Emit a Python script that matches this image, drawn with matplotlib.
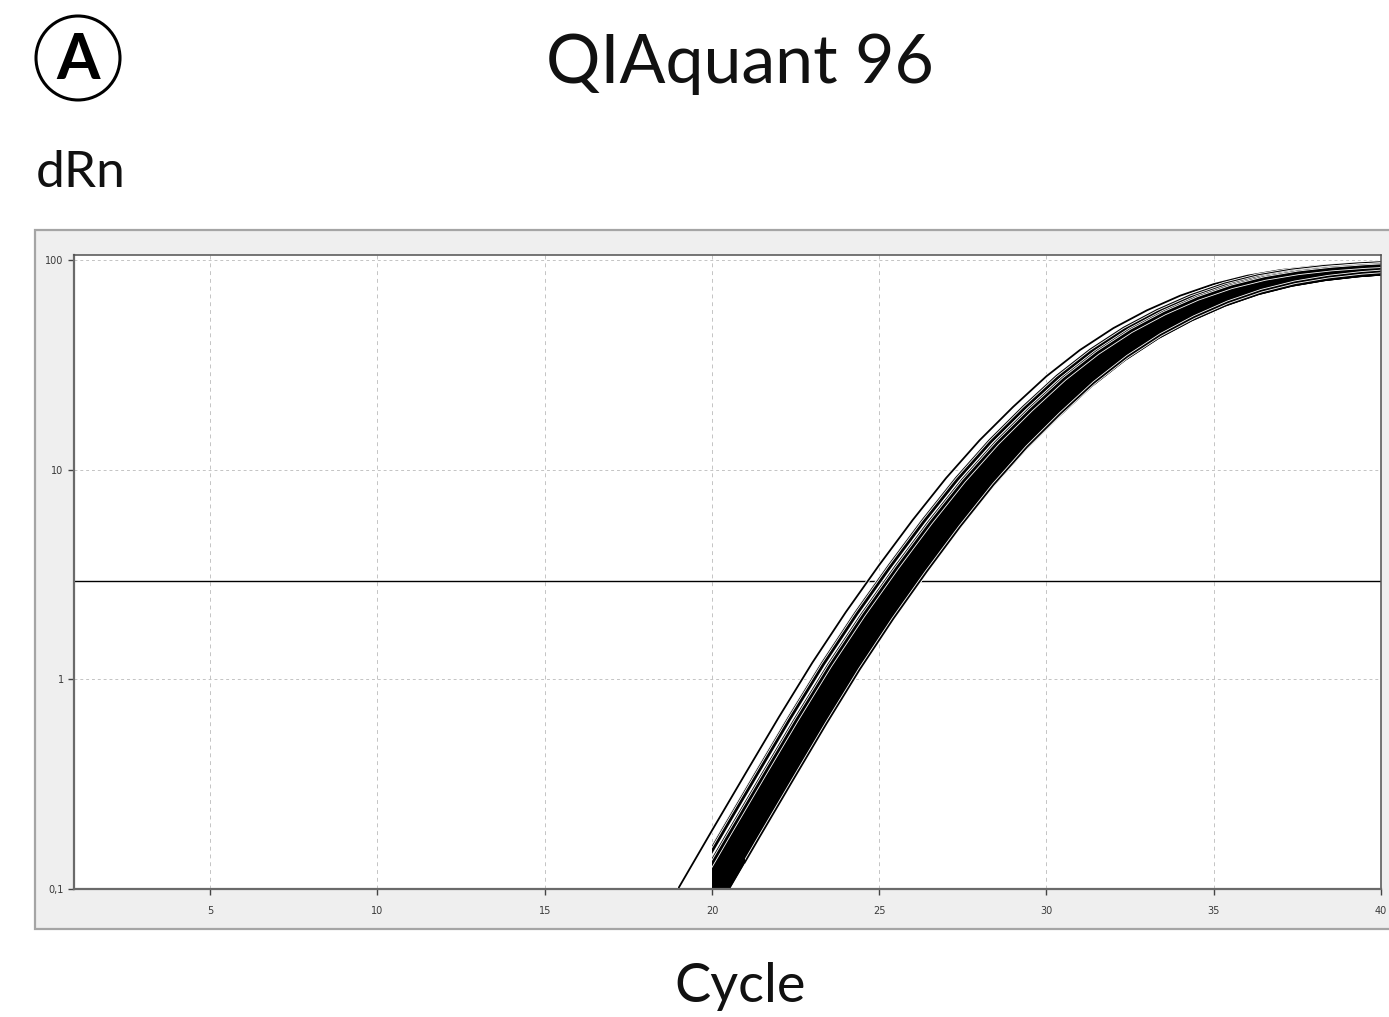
import numpy as np
import matplotlib
matplotlib.use("Agg")
import matplotlib.pyplot as plt
from matplotlib.patches import Rectangle, Ellipse
import matplotlib.patheffects as pe

# ---- data ----
# amplification profile of the earliest well (dRn per cycle)
profile_cycles = [18, 19, 20, 21, 22, 23, 24, 25, 26, 27, 28, 29, 30,
                  31, 32, 33, 34, 35, 36, 37, 38, 39, 40]
profile_drn = [0.054, 0.101, 0.19, 0.355, 0.66, 1.20, 2.09, 3.51, 5.75, 9.12,
               13.8, 19.9, 27.9, 37.2, 47.3, 57.5, 67.6, 76.7, 84.1, 89.5,
               93.3, 95.9, 97.7]

# per-well delay (cycles) relative to the earliest well
well_shift = [0.00,
              0.28, 0.31, 0.33,
              0.49, 0.53,
              0.66, 0.69, 0.71, 0.73, 0.75, 0.77, 0.79, 0.80, 0.82, 0.83,
              0.85, 0.86, 0.87, 0.89, 0.90, 0.91, 0.92, 0.93, 0.94, 0.95,
              0.96, 0.97, 0.98, 0.99, 1.00, 1.00, 1.01, 1.02, 1.03, 1.04,
              1.04, 1.05, 1.06, 1.07, 1.08, 1.08, 1.09, 1.10, 1.11, 1.12,
              1.12, 1.13, 1.14, 1.15, 1.15, 1.16, 1.17, 1.18, 1.18, 1.19,
              1.20, 1.20, 1.21, 1.22, 1.22, 1.23, 1.24, 1.24, 1.25, 1.26,
              1.26, 1.27, 1.28, 1.28, 1.29, 1.30, 1.30, 1.31, 1.32, 1.32,
              1.05, 1.10, 1.14, 1.17, 1.21, 1.25, 1.27, 1.29, 1.31, 1.33,
              1.19, 1.23, 1.27, 1.30, 1.33, 1.34, 1.35, 1.20, 1.25,
              1.42]

# per-well plateau scale
well_scale = [1.00,
              0.99, 1.00, 0.98,
              0.98, 0.97,
              0.99, 0.97, 0.98, 0.96, 0.99, 0.95, 0.97, 0.98, 0.94, 0.96,
              0.98, 0.95, 0.97, 0.93, 0.96, 0.98, 0.94, 0.97, 0.95, 0.92,
              0.96, 0.98, 0.93, 0.95, 0.97, 0.91, 0.94, 0.96, 0.98, 0.92,
              0.95, 0.97, 0.93, 0.96, 0.91, 0.94, 0.98, 0.92, 0.95, 0.97,
              0.93, 0.96, 0.90, 0.94, 0.97, 0.92, 0.95, 0.91, 0.96, 0.93,
              0.97, 0.90, 0.94, 0.92, 0.96, 0.91, 0.95, 0.93, 0.90, 0.94,
              0.92, 0.96, 0.91, 0.93, 0.95, 0.90, 0.92, 0.94, 0.91, 0.93,
              0.97, 0.95, 0.93, 0.96, 0.92, 0.94, 0.91, 0.95, 0.92, 0.90,
              0.96, 0.93, 0.91, 0.94, 0.92, 0.90, 0.93, 0.95, 0.91,
              0.93]

first_cycle = [19] + [20] * 94 + [21]
# wells that run apart from the main bundle
separate_wells = [0, 1, 2, 3, 4, 5, 95]

threshold = 2.96
x_ticks = [5, 10, 15, 20, 25, 30, 35, 40]
y_ticks = [0.1, 1, 10, 100]
y_tick_labels = ["0,1", "1", "10", "100"]

# ---- figure ----
W, H = 1389, 1017
fig = plt.figure(figsize=(W / 100, H / 100), dpi=100)
fig.patch.set_facecolor("white")

def fx(px):
    return px / W

def fy(py):
    return 1 - py / H

XMIN, XMAX = 0.93, 40
YMIN, YMAX = 0.1, 105.6

# gray panel
panel = Rectangle((fx(35), fy(929)), fx(1400) - fx(35), fy(230) - fy(929),
                  transform=fig.transFigure, facecolor="#efefef",
                  edgecolor="#a5a5a5", linewidth=1.6, zorder=-5)
fig.patches.append(panel)

ax = fig.add_axes([fx(74), fy(889), fx(1381) - fx(74), fy(255) - fy(889)])
ax.set_zorder(2)
ax.set_facecolor("white")
ax.set_yscale("log")
ax.set_xlim(XMIN, XMAX)
ax.set_ylim(YMIN, YMAX)

# grid
for xv in x_ticks[:-1]:
    ax.axvline(xv, color="#c4c4c4", lw=0.7, dashes=(4, 4), zorder=1)
for yv in [1, 10, 100]:
    ax.axhline(yv, color="#c4c4c4", lw=0.7, dashes=(3, 3), zorder=1)

# threshold
ax.axhline(threshold, color="black", lw=1.0, zorder=2)

cyc = np.array(profile_cycles, dtype=float)
drn = np.array(profile_drn, dtype=float)

def clip_for(fc):
    return Rectangle((fc, YMIN), XMAX - fc, YMAX - YMIN, transform=ax.transData)

for i, (sh, sc, fc) in enumerate(zip(well_shift, well_scale, first_cycle)):
    if i in separate_wells:
        lw = 1.3 if i in (0, 95) else 2.0
        line, = ax.plot(cyc + sh, drn * sc, color="black", lw=lw, zorder=4,
                        solid_joinstyle="round", solid_capstyle="butt")
        line.set_path_effects([pe.Stroke(linewidth=lw + 1.2, foreground="white"),
                               pe.Normal()])
        line.set_clip_path(clip_for(fc))
    else:
        halo, = ax.plot(cyc + sh, drn * sc, color="white", lw=3.0, zorder=2.5,
                        solid_joinstyle="round", solid_capstyle="butt")
        halo.set_clip_path(clip_for(fc))
        line, = ax.plot(cyc + sh, drn * sc, color="black", lw=2.0, zorder=3,
                        solid_joinstyle="round", solid_capstyle="butt")
        line.set_clip_path(clip_for(fc))

# spines
for side in ["left", "bottom"]:
    ax.spines[side].set_color("#6a6a6a")
    ax.spines[side].set_linewidth(1.6)
    ax.spines[side].set_zorder(5)
for side in ["top", "right"]:
    ax.spines[side].set_color("#505050")
    ax.spines[side].set_linewidth(1.1)
    ax.spines[side].set_zorder(5)

ax.set_xticks(x_ticks)
ax.set_xticklabels([str(v) for v in x_ticks])
ax.set_yticks(y_ticks)
ax.set_yticklabels(y_tick_labels)
ax.minorticks_off()
ax.tick_params(axis="both", direction="out", length=4.5, width=1.0,
               color="#444444", labelsize=7, labelcolor="#3a3a3a")
ax.tick_params(axis="x", pad=8)
ax.tick_params(axis="y", pad=3)

# texts
fig.text(fx(740), fy(83), "QIAquant 96", ha="center", va="baseline",
         fontsize=49, family="Lato", color="#111111")
fig.text(fx(36), fy(187), "dRn", ha="left", va="baseline",
         fontsize=37, family="Lato", color="#111111")
fig.text(fx(740), fy(1002), "Cycle", ha="center", va="baseline",
         fontsize=39, family="Lato", color="#111111")

circ = Ellipse((fx(78), fy(58)), 84 / W, 84 / H, transform=fig.transFigure,
               facecolor="none", edgecolor="black", linewidth=2.2)
fig.patches.append(circ)
fig.text(fx(78), fy(79), "A", ha="center", va="baseline", fontsize=45,
         family="Lato", fontweight="bold", color="black")

fig.savefig("out.png", dpi=100)
